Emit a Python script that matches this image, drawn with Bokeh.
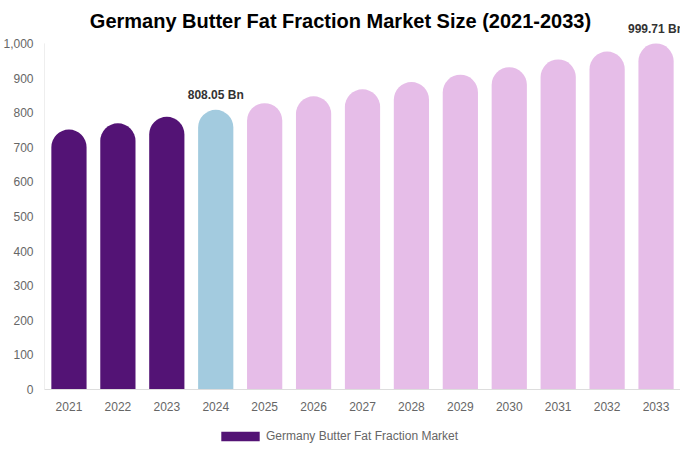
from bokeh.plotting import figure
from bokeh.layouts import column
from bokeh.models import (ColumnDataSource, FactorRange, Range1d, LabelSet, Label, Legend,
                          LegendItem, NumeralTickFormatter, FixedTicker)
from bokeh.core.properties import value
from bokeh.transform import dodge
from bokeh.embed import file_html
from bokeh.resources import INLINE

years = ["2021", "2022", "2023", "2024", "2025", "2026", "2027", "2028",
         "2029", "2030", "2031", "2032", "2033"]
values = [751, 769, 788, 808.05, 827.4, 847.2, 867.4, 888.2, 909.4, 931.2, 953.5, 976.3, 999.71]
colors = ["#531375"] * 3 + ["#a3cbdf"] + ["#e6bde8"] * 9
label_years = ["2024", "2033"]
label_values = [808.05, 999.71]
label_texts = ["808.05 Bn", "999.71 Bn"]
y_ticks = [0, 100, 200, 300, 400, 500, 600, 700, 800, 900, 1000]
series_name = "Germany Butter Fat Fraction Market"
title_text = "Germany Butter Fat Fraction Market Size (2021-2033)"

src = ColumnDataSource(dict(x=years, top=values, color=colors))
lsrc = ColumnDataSource(dict(x=label_years, y=label_values, text=label_texts))
asrc = ColumnDataSource(dict(x=[years[0]], y0=[y_ticks[0]], y1=[y_ticks[-1]]))

W, H, LH = 680, 420, 28
p = figure(width=W, height=H, x_range=FactorRange(*years, range_padding=0),
           y_range=Range1d(0, 1124), output_backend="svg", toolbar_location=None,
           min_border_left=30, min_border_right=0,
           min_border_top=0, min_border_bottom=31)

p.vbar(x="x", top="top", width=0.72, fill_color="color", line_color=None,
       border_radius=(18, 18, 0, 0), source=src)

p.add_layout(LabelSet(x="x", y="y", text="text", source=lsrc, y_offset=8,
                      text_align="center", text_baseline="bottom",
                      text_font=value("Liberation Sans"), text_font_size="12px",
                      text_font_style="bold", text_color="#333333"))

p.add_layout(Label(x=296, y=369, x_units="screen", y_units="screen",
                   text=title_text, text_align="center", text_baseline="middle",
                   text_font="Liberation Sans", text_font_size="20px",
                   text_font_style="bold", text_color="#000000"))

# y axis line from first to last tick only
p.segment(x0=dodge("x", -0.5, range=p.x_range), y0="y0",
          x1=dodge("x", -0.5, range=p.x_range), y1="y1", source=asrc,
          line_color="#dddddd", line_width=1)

p.xgrid.grid_line_color = None
p.ygrid.grid_line_color = None
p.outline_line_color = None

for ax in (p.xaxis, p.yaxis):
    ax.major_tick_line_color = None
    ax.minor_tick_line_color = None
    ax.major_label_text_font = "Liberation Sans"
    ax.major_label_text_font_size = "12px"
    ax.major_label_text_color = "#666666"

p.xaxis.axis_line_color = "#dddddd"
p.yaxis.axis_line_color = None
p.yaxis.ticker = FixedTicker(ticks=y_ticks)
p.yaxis.formatter = NumeralTickFormatter(format="0,0")
p.yaxis.major_label_standoff = 5
p.xaxis.major_label_standoff = 6

# legend in its own strip below the chart
lp = figure(width=W, height=LH, x_range=Range1d(0, 1), y_range=Range1d(0, 1),
            output_backend="svg", toolbar_location=None,
            x_axis_location=None, y_axis_location=None,
            min_border_left=0, min_border_right=0, min_border_top=0, min_border_bottom=0)
lp.xgrid.grid_line_color = None
lp.ygrid.grid_line_color = None
lp.outline_line_color = None
dummy = lp.vbar(x=[0.5], top=[0], width=0.1, fill_color="#531375", line_color=None)
legend = Legend(items=[LegendItem(label=series_name, renderers=[dummy])],
                orientation="horizontal", location=(172, 5),
                glyph_width=48, glyph_height=12, label_text_font="Liberation Sans",
                label_text_font_size="12px", label_text_color="#666666",
                border_line_color=None, background_fill_alpha=0, padding=2,
                margin=0, label_standoff=2, label_height=12)
lp.add_layout(legend)

layout = column(p, lp, spacing=0)
open("out.html", "w").write(file_html(layout, INLINE))
